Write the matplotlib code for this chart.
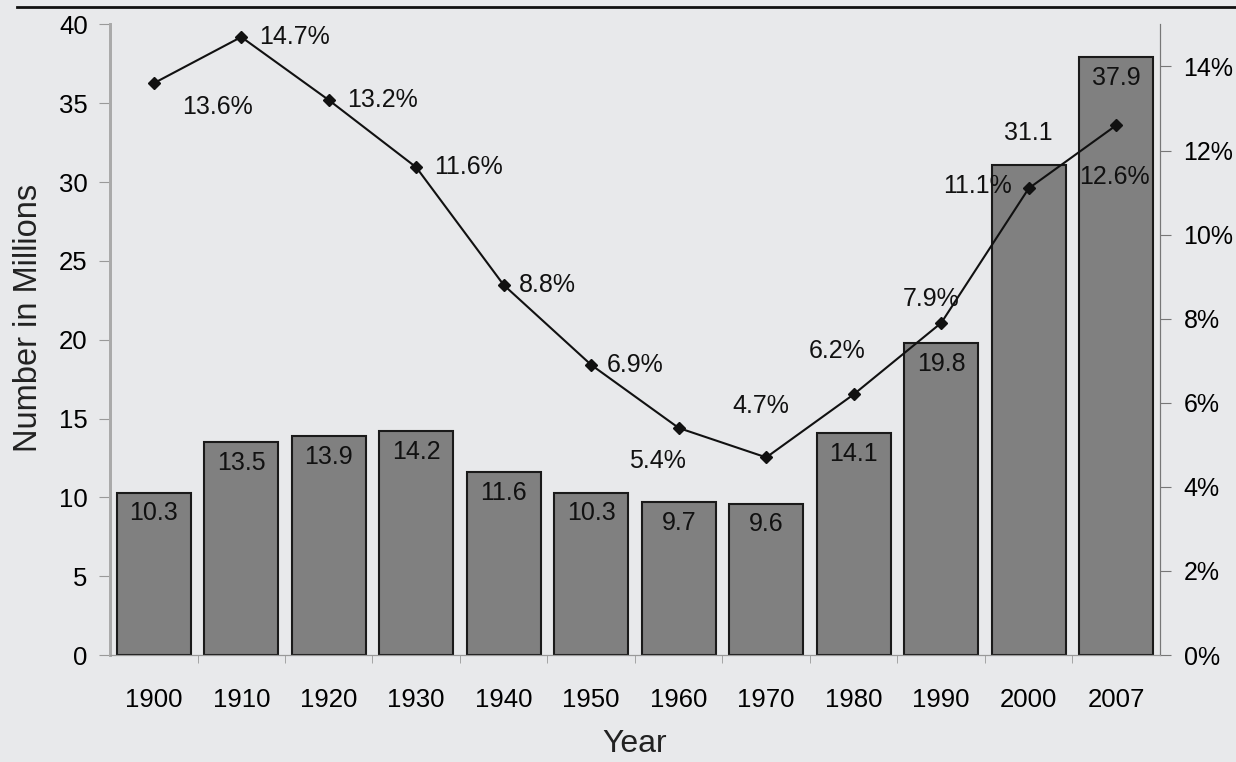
import numpy as np
import matplotlib.pyplot as plt
from matplotlib.lines import Line2D
from matplotlib.ticker import FuncFormatter

plt.rcParams['font.family'] = ['Liberation Sans', 'DejaVu Sans']

years = ["1900", "1910", "1920", "1930", "1940", "1950", "1960", "1970", "1980", "1990", "2000", "2007"]
millions = [10.3, 13.5, 13.9, 14.2, 11.6, 10.3, 9.7, 9.6, 14.1, 19.8, 31.1, 37.9]
percent = [13.6, 14.7, 13.2, 11.6, 8.8, 6.9, 5.4, 4.7, 6.2, 7.9, 11.1, 12.6]

# label placement for the percent labels (offset points, alignment)
pct_offsets = [(46, -17, 'center'), (13, 0, 'left'), (13, 0, 'left'), (13, 0, 'left'),
               (11, 0, 'left'), (11, 0, 'left'), (-15, -24, 'center'), (-4, 37, 'center'),
               (-12, 31, 'center'), (-7, 17, 'center'), (-12, 2, 'right'), (-1, -37, 'center')]

bg = '#e8e9eb'
fig = plt.figure(figsize=(12.36, 7.62), dpi=100, facecolor=bg)
ax = fig.add_axes([0.089, 0.1404, 0.8495, 0.8276])
ax.set_facecolor(bg)
ax2 = ax.twinx()

x = np.arange(len(years))
bars = ax.bar(x, millions, width=0.85, color='#808080', edgecolor='#1a1a1a', linewidth=1.5)
for i, v in enumerate(millions):
    if years[i] == "2000":
        ax.annotate(f"{v}", (x[i], v), xytext=(0, 23), textcoords='offset points',
                    ha='center', va='center', fontsize=18, color='#111111')
    else:
        ax.annotate(f"{v}", (x[i], v), xytext=(0, -15), textcoords='offset points',
                    ha='center', va='center', fontsize=18, color='#111111')

ax.set_xlim(-0.5, len(years) - 0.5)
ax.set_ylim(0, 40)
ax.set_yticks(range(0, 41, 5))
ax.set_xticks(x)
ax.set_xticklabels(years)
ax.set_xticks(x[:-1] + 0.5, minor=True)
ax.tick_params(axis='x', which='major', length=0, pad=24, labelsize=18.5)
ax.tick_params(axis='x', which='minor', length=6, color='#999999', direction='out')
ax.tick_params(axis='y', length=8, color='#999999', labelsize=18.5, pad=8)
ax.set_ylabel("Number in Millions", fontsize=23.5, color='#222222')
ax.yaxis.set_label_coords(-0.063, 0.535)
ax.set_xlabel("Year", fontsize=23, labelpad=12, color='#222222')

ax2.plot(x, percent, color='#111111', linewidth=1.5, marker='D', markersize=6)
for i, p in enumerate(percent):
    dx, dy, ha = pct_offsets[i]
    ax2.annotate(f"{p}%", (x[i], p), xytext=(dx, dy), textcoords='offset points',
                 ha=ha, va='center', fontsize=18, color='#111111')
ax2.set_ylim(0, 15)
ax2.set_yticks(range(0, 15, 2))
ax2.yaxis.set_major_formatter(FuncFormatter(lambda v, pos: f"{int(v)}%"))
ax2.tick_params(axis='y', length=8, color='#777777', labelsize=18, pad=9)

for a in (ax, ax2):
    a.spines['top'].set_visible(False)
    a.spines['left'].set_color('#aaaaaa')
    a.spines['left'].set_linewidth(2)
    a.spines['right'].set_color('#777777')
    a.spines['bottom'].set_color('#999999')

fig.add_artist(Line2D([0.014, 1.0], [0.991, 0.991], color='#111111', linewidth=2))

plt.savefig('out.png', dpi=100, facecolor=bg)
